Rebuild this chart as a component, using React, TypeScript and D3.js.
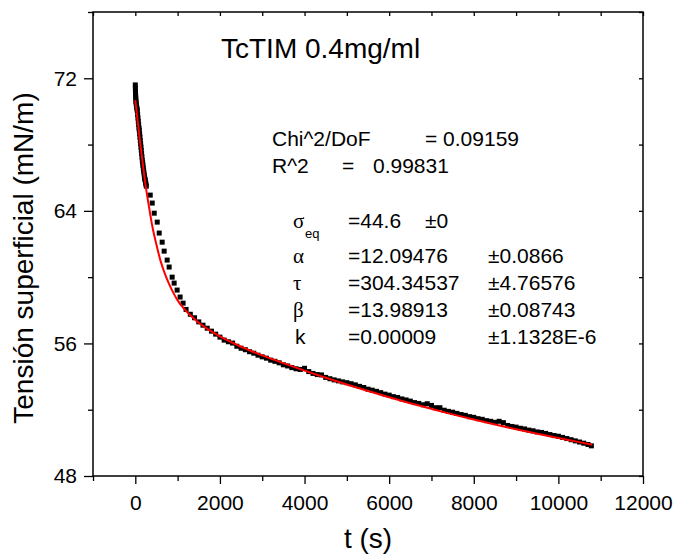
import React, { useEffect, useRef } from "react";
import * as d3 from "d3";

// measured surface tension (black squares)
const measuredTime = [
  0, 2, 4, 6, 9, 12, 16, 20, 26, 33, 40, 47, 55, 63, 71, 79, 87, 94, 102, 110,
  118, 126, 134, 141, 149, 157, 165, 173, 181, 188, 196, 204, 212, 220, 228,
  235, 244, 252, 260,
  353, 400, 447, 518, 565, 635, 682, 753, 800, 871, 918, 988, 1059, 1129,
  1200, 1300, 1400, 1500, 1600, 1700, 1800, 1900, 2000, 2100, 2200, 2300,
  2400, 2500, 2600, 2700, 2800, 2900, 3000, 3100, 3200, 3300, 3400, 3500,
  3600, 3700, 3800, 3900, 4000, 4100, 4200, 4300, 4400, 4500, 4600, 4700,
  4800, 4900, 5000, 5100, 5200, 5300, 5400, 5500, 5600, 5700, 5800, 5900,
  6000, 6100, 6200, 6300, 6400, 6500, 6600, 6700, 6800, 6900, 7000, 7100,
  7200, 7300, 7400, 7500, 7600, 7700, 7800, 7900, 8000, 8100, 8200, 8300,
  8400, 8500, 8600, 8700, 8800, 8900, 9000, 9100, 9200, 9300, 9400, 9500,
  9600, 9700, 9800, 9900, 10000, 10100, 10200, 10300, 10400, 10500, 10600,
  10700, 10780,
];
const measuredTension = [
  71.6, 71.4, 71.2, 71.05, 70.9, 70.75, 70.6, 70.5, 70.35, 70.25, 70.15, 70.05,
  69.8, 69.6, 69.4, 69.2, 69.0, 68.87, 68.65, 68.45, 68.25, 68.05, 67.85,
  67.66, 67.45, 67.25, 67.05, 66.9, 66.75, 66.58, 66.45, 66.3, 66.15, 66.0,
  65.9, 65.85, 65.7, 65.6, 65.49,
  64.95, 64.47, 63.86, 63.32, 62.66, 62.11, 61.57, 61.03, 60.61, 60.0, 59.64,
  59.22, 58.8, 58.43,
  58.05, 57.76, 57.55, 57.3, 57.1, 56.92, 56.74, 56.56, 56.38, 56.2, 56.1,
  56.02, 55.83, 55.71, 55.62, 55.5, 55.41, 55.29, 55.19, 55.11, 54.99, 54.92,
  54.83, 54.71, 54.64, 54.54, 54.47, 54.43, 54.5, 54.3, 54.19, 54.12, 54.1,
  53.95, 53.87, 53.8, 53.74, 53.68, 53.63, 53.57, 53.5, 53.41, 53.34, 53.24,
  53.18, 53.11, 53.03, 52.94, 52.88, 52.79, 52.74, 52.65, 52.59, 52.52, 52.43,
  52.38, 52.3, 52.36, 52.26, 52.12, 52.12, 51.97, 51.9, 51.85, 51.78, 51.71,
  51.66, 51.58, 51.54, 51.46, 51.42, 51.34, 51.3, 51.24, 51.3, 51.22, 51.05,
  50.99, 50.95, 50.88, 50.84, 50.77, 50.73, 50.66, 50.63, 50.57, 50.5, 50.44,
  50.4, 50.33, 50.26, 50.19, 50.12, 50.05, 49.98, 49.9, 49.82,
];

// fitted curve (red)
const fitTime = [
  0, 40, 80, 120, 180, 240, 320, 400, 500, 600, 700, 800, 900, 1000, 1150,
  1300, 1500, 1750, 2000, 2500, 3000, 3500, 4000, 4500, 5000, 5500, 6000,
  6500, 7000, 7500, 8000, 8500, 9000, 9500, 10000, 10400, 10800,
];
const fitTension = [
  70.68, 69.78, 68.88, 68.0, 66.78, 65.6, 64.3, 63.1, 61.95, 60.95, 60.2,
  59.58, 59.05, 58.6, 58.1, 57.7, 57.25, 56.8, 56.42, 55.8, 55.28, 54.81,
  54.36, 53.93, 53.52, 53.13, 52.75, 52.39, 52.05, 51.72, 51.41, 51.11, 50.82,
  50.55, 50.29, 50.09, 49.89,
];

const xMajorTicks = [0, 2000, 4000, 6000, 8000, 10000, 12000];
const xMinorTicks = [-1000, 1000, 3000, 5000, 7000, 9000, 11000];
const yMajorTicks = [48, 56, 64, 72];
const yMinorTicks = [52, 60, 68, 76];

const title = "TcTIM 0.4mg/ml";
const fitStats = [
  ["Chi^2/DoF", "= 0.09159"],
  ["R^2", "=", "0.99831"],
];
const paramSymbols = ["σ", "α", "τ", "β", "k"];
const paramValues = ["=44.6", "=12.09476", "=304.34537", "=13.98913", "=0.00009"];
const paramErrors = ["±0", "±0.0866", "±4.76576", "±0.08743", "±1.1328E-6"];

const SANS = "'Liberation Sans', Arial, Helvetica, sans-serif";
const SERIF = "'Liberation Serif', 'Times New Roman', serif";

export default function App() {
  const svgRef = useRef<SVGSVGElement>(null);

  useEffect(() => {
    document.body.style.margin = "0";
    const svg = d3.select(svgRef.current);
    svg.selectAll("*").remove();

    const left = 93, right = 643, top = 12, bottom = 476;

    const x = d3.scaleLinear().domain([-1000, 12000]).range([left, right]);
    const y = d3.scaleLinear().domain([48, 76]).range([bottom, top]);

    svg.append("rect").attr("width", 675).attr("height", 560).attr("fill", "#fff");

    const styleAxis = (g: any, fs = 21) => {
      g.select(".domain").remove();
      g.selectAll("line").attr("stroke", "#000").attr("stroke-width", 1.3);
      g.selectAll("text")
        .attr("fill", "#000")
        .style("font-family", SANS)
        .style("font-size", `${fs}px`);
    };

    // bottom axis
    svg.append("g")
      .attr("transform", `translate(0,${bottom})`)
      .call(d3.axisBottom(x).tickValues(xMajorTicks).tickSize(8).tickPadding(11).tickFormat(d3.format("d")))
      .call(styleAxis);
    svg.append("g")
      .attr("transform", `translate(0,${bottom})`)
      .call(d3.axisBottom(x).tickValues(xMinorTicks).tickSize(5).tickFormat(() => ""))
      .call(styleAxis);

    // left axis
    svg.append("g")
      .attr("transform", `translate(${left},0)`)
      .call(d3.axisLeft(y).tickValues(yMajorTicks).tickSize(9).tickPadding(7).tickFormat(d3.format("d")))
      .call(styleAxis);
    svg.append("g")
      .attr("transform", `translate(${left},0)`)
      .call(d3.axisLeft(y).tickValues(yMinorTicks).tickSize(5).tickFormat(() => ""))
      .call(styleAxis);

    // top and right: inward ticks, no labels
    svg.append("g")
      .attr("transform", `translate(0,${top})`)
      .call(d3.axisTop(x).tickValues([...xMajorTicks, ...xMinorTicks]).tickSize(-4).tickFormat(() => ""))
      .call(styleAxis);
    svg.append("g")
      .attr("transform", `translate(${right},0)`)
      .call(d3.axisRight(y).tickValues([...yMajorTicks, ...yMinorTicks]).tickSize(-4).tickFormat(() => ""))
      .call(styleAxis);

    // frame
    svg.append("rect")
      .attr("x", left).attr("y", top)
      .attr("width", right - left).attr("height", bottom - top)
      .attr("fill", "none").attr("stroke", "#000").attr("stroke-width", 1.5);

    // measured points
    const sq = 5;
    svg.append("g")
      .selectAll("rect")
      .data(measuredTime.map((t, i) => [t, measuredTension[i]]))
      .join("rect")
      .attr("x", (d) => x(d[0]) - sq / 2)
      .attr("y", (d) => y(d[1]) - sq / 2)
      .attr("width", sq)
      .attr("height", sq)
      .attr("fill", "#000");

    // fit line
    const line = d3.line<number[]>()
      .x((d) => x(d[0]))
      .y((d) => y(d[1]))
      .curve(d3.curveMonotoneX);
    svg.append("path")
      .datum(fitTime.map((t, i) => [t, fitTension[i]]))
      .attr("d", line)
      .attr("fill", "none")
      .attr("stroke", "#ff0000")
      .attr("stroke-width", 2);

    // axis titles
    svg.append("text")
      .attr("x", 368).attr("y", 548)
      .attr("text-anchor", "middle")
      .style("font-family", SANS).style("font-size", "28px")
      .text("t (s)");
    svg.append("text")
      .attr("transform", "translate(33,258) rotate(-90)")
      .attr("text-anchor", "middle")
      .style("font-family", SANS).style("font-size", "28px")
      .text("Tensión superficial (mN/m)");

    // title
    svg.append("text")
      .attr("x", 221).attr("y", 58)
      .style("font-family", SANS).style("font-size", "28px")
      .text(title);

    // fit statistics
    const ann = svg.append("g").style("font-family", SANS).style("font-size", "21px").attr("fill", "#000");
    ann.append("text").attr("x", 272).attr("y", 146).text(fitStats[0][0]);
    ann.append("text").attr("x", 425).attr("y", 146).text(fitStats[0][1]);
    ann.append("text").attr("x", 272).attr("y", 173).text(fitStats[1][0]);
    ann.append("text").attr("x", 342).attr("y", 173).text(fitStats[1][1]);
    ann.append("text").attr("x", 373).attr("y", 173).text(fitStats[1][2]);

    const rowY = [228, 262.5, 289.5, 316.5, 343.5];
    paramSymbols.forEach((s, i) => {
      ann.append("text")
        .attr("x", i === 4 ? 295 : 293)
        .attr("y", rowY[i])
        .style("font-family", i === 4 ? SANS : SERIF)
        .text(s);
      ann.append("text").attr("x", 348).attr("y", rowY[i]).text(paramValues[i]);
      ann.append("text").attr("x", i === 0 ? 425 : 488).attr("y", rowY[i]).text(paramErrors[i]);
    });
    ann.append("text")
      .attr("x", 305).attr("y", 238)
      .style("font-size", "13px")
      .text("eq");
  }, []);

  return <svg ref={svgRef} width={675} height={560} style={{ display: "block" }} />;
}
